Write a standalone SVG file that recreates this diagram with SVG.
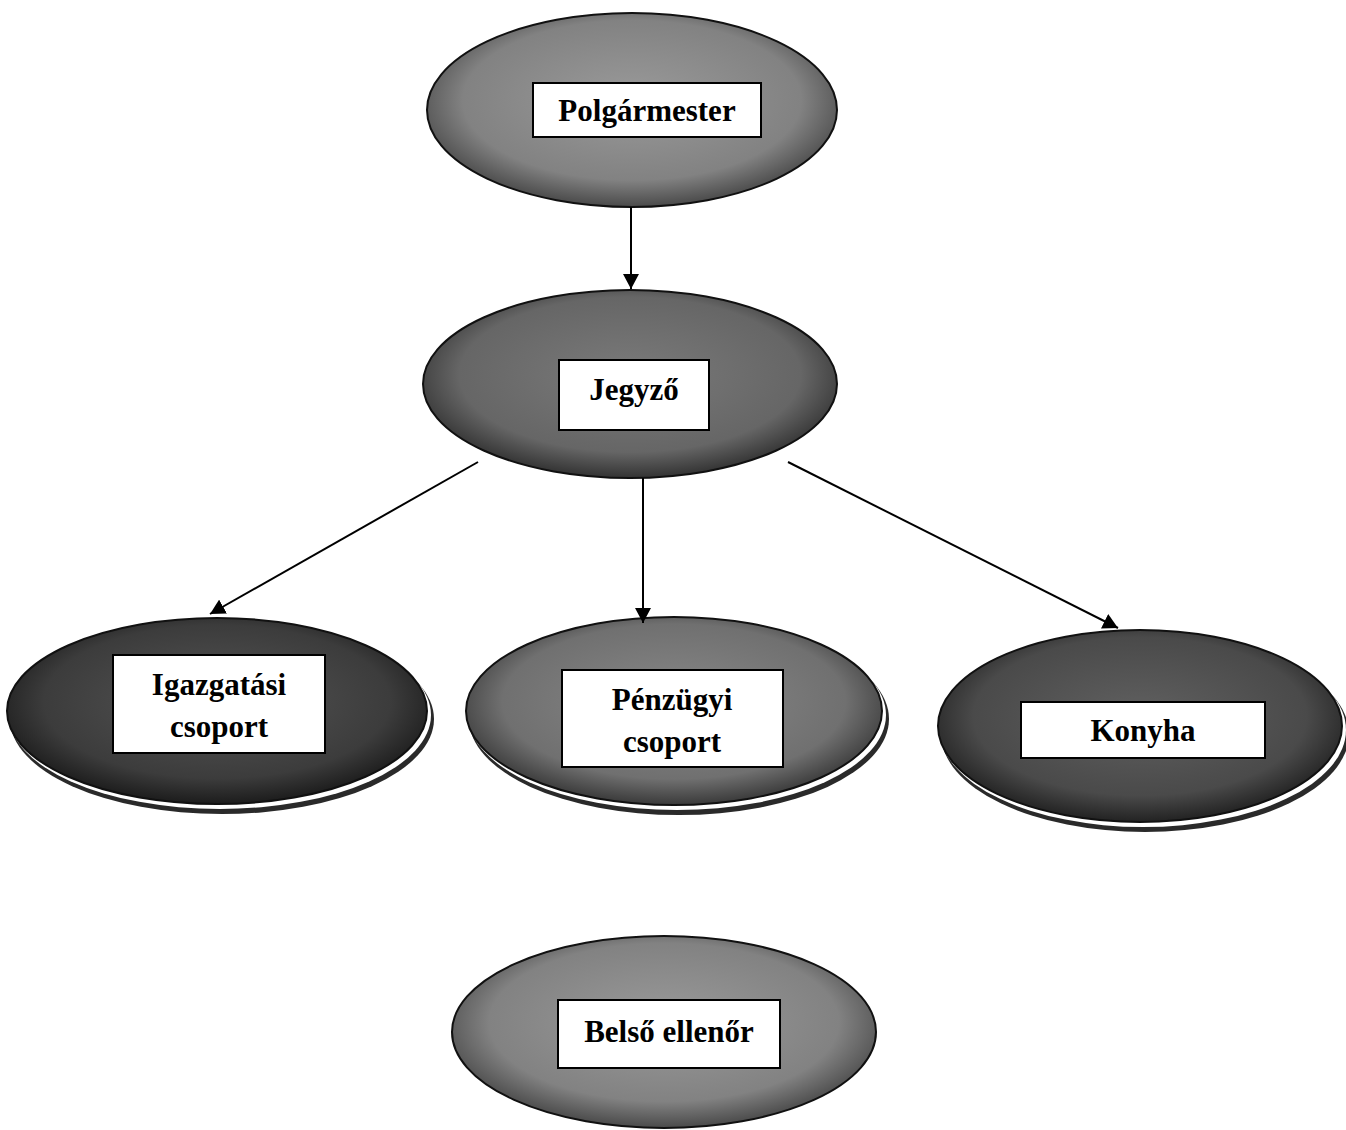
<svg xmlns="http://www.w3.org/2000/svg" width="1346" height="1130" viewBox="0 0 1346 1130">
<defs>
<style>
.lbl{font-family:"Liberation Serif","Times New Roman",serif;font-weight:bold;font-size:31px;fill:#000;text-anchor:middle}
.box{fill:#fff;stroke:#000;stroke-width:2}
.edge{stroke:#000;stroke-width:2;fill:none}
.ell{stroke:#111;stroke-width:2}
.rim{fill:#fff}
.shadow{fill:#2a2a2a}
</style>
<radialGradient id="gMid" cx="50%" cy="45%" r="55%">
<stop offset="0" stop-color="#9a9a9a"/><stop offset="0.75" stop-color="#828282"/><stop offset="1" stop-color="#4a4a4a"/>
</radialGradient>
<radialGradient id="gJ" cx="50%" cy="45%" r="55%">
<stop offset="0" stop-color="#7a7a7a"/><stop offset="0.75" stop-color="#666"/><stop offset="1" stop-color="#333"/>
</radialGradient>
<radialGradient id="gDark" cx="50%" cy="45%" r="55%">
<stop offset="0" stop-color="#555"/><stop offset="0.75" stop-color="#3c3c3c"/><stop offset="1" stop-color="#1c1c1c"/>
</radialGradient>
<radialGradient id="gP" cx="50%" cy="45%" r="55%">
<stop offset="0" stop-color="#888"/><stop offset="0.75" stop-color="#707070"/><stop offset="1" stop-color="#3a3a3a"/>
</radialGradient>
<radialGradient id="gK" cx="50%" cy="45%" r="55%">
<stop offset="0" stop-color="#606060"/><stop offset="0.75" stop-color="#4a4a4a"/><stop offset="1" stop-color="#222"/>
</radialGradient>
<marker id="arr" viewBox="0 0 15 16" refX="15" refY="8" markerWidth="15" markerHeight="16" markerUnits="userSpaceOnUse" orient="auto">
<path d="M0,0 L15,8 L0,16 z" fill="#000"/>
</marker>
</defs>

<g id="node-polgarmester">
<ellipse class="ell" cx="632" cy="110" rx="205" ry="97" fill="url(#gMid)"/>
<rect class="box" x="533" y="83" width="228" height="54"/>
<text class="lbl" x="647" y="121">Polgármester</text>
</g>

<g id="node-jegyzo">
<ellipse class="ell" cx="630" cy="384" rx="207" ry="94" fill="url(#gJ)"/>
<rect class="box" x="559" y="360" width="150" height="70"/>
<text class="lbl" x="634" y="400">Jegyző</text>
</g>

<g id="node-igazgatasi">
<ellipse class="shadow" cx="222" cy="719" rx="212" ry="95"/>
<ellipse class="rim" cx="220" cy="715" rx="211" ry="94"/>
<ellipse class="ell" cx="217" cy="711" rx="210" ry="93" fill="url(#gDark)"/>
<rect class="box" x="113" y="655" width="212" height="98"/>
<text class="lbl" x="219" y="695">Igazgatási</text>
<text class="lbl" x="219" y="737">csoport</text>
</g>

<g id="node-penzugyi">
<ellipse class="shadow" cx="679" cy="719" rx="210" ry="96"/>
<ellipse class="rim" cx="677" cy="715" rx="209" ry="95"/>
<ellipse class="ell" cx="674" cy="711" rx="208" ry="94" fill="url(#gP)"/>
<rect class="box" x="562" y="670" width="221" height="97"/>
<text class="lbl" x="672" y="710">Pénzügyi</text>
<text class="lbl" x="672" y="752">csoport</text>
</g>

<g id="node-konyha">
<ellipse class="shadow" cx="1145" cy="734" rx="204" ry="98"/>
<ellipse class="rim" cx="1143" cy="730" rx="203" ry="97"/>
<ellipse class="ell" cx="1140" cy="726" rx="202" ry="96" fill="url(#gK)"/>
<rect class="box" x="1021" y="702" width="244" height="56"/>
<text class="lbl" x="1143" y="741">Konyha</text>
</g>

<g id="node-belso">
<ellipse class="ell" cx="664" cy="1032" rx="212" ry="96" fill="url(#gMid)"/>
<rect class="box" x="558" y="1000" width="222" height="68"/>
<text class="lbl" x="669" y="1042">Belső ellenőr</text>
</g>

<g id="connectors">
<line class="edge" x1="631" y1="207" x2="631" y2="289" marker-end="url(#arr)"/>
<line class="edge" x1="478" y1="462" x2="210" y2="614" marker-end="url(#arr)"/>
<line class="edge" x1="643" y1="478" x2="643" y2="623" marker-end="url(#arr)"/>
<line class="edge" x1="788" y1="462" x2="1118" y2="628" marker-end="url(#arr)"/>
</g>
</svg>
